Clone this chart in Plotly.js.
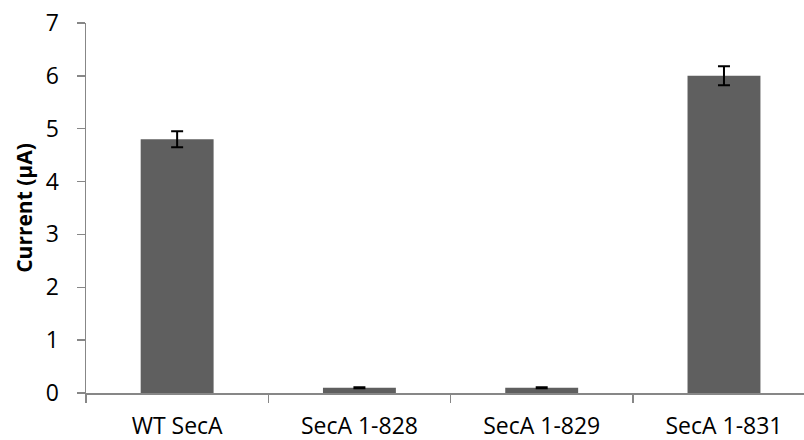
<!DOCTYPE html>
<html>
<head>
<meta charset="utf-8">
<script src="https://cdn.plot.ly/plotly-3.0.1.min.js"></script>
<style>html,body{margin:0;padding:0;background:#fff;}#chart{width:804px;height:440px;}</style>
</head>
<body>
<div id="chart"></div>
<script>
const categories = ["WT SecA", "SecA 1-828", "SecA 1-829", "SecA 1-831"];
const currentValues = [4.8, 0.1, 0.1, 6.0];
const errorValues = [0.15, 0.01, 0.01, 0.18];
const yTickValues = [0, 1, 2, 3, 4, 5, 6, 7];

const font = "Open Sans, Lato, sans-serif";

const trace = {
  type: "bar",
  x: categories,
  y: currentValues,
  marker: {color: "#5f5f5f"},
  width: 0.4,
  error_y: {type: "data", array: errorValues, visible: true, color: "#000", thickness: 2, width: 6},
  hoverinfo: "none"
};

const layout = {
  width: 804, height: 440,
  margin: {l: 86, r: 0, t: 23, b: 47},
  paper_bgcolor: "#fff", plot_bgcolor: "#fff",
  showlegend: false,
  font: {family: font, color: "#000", size: 18},
  xaxis: {
    type: "category",
    range: [-0.5, 3.439],
    showgrid: false,
    showline: true, linecolor: "#878787", linewidth: 1.5,
    ticks: "outside", tickson: "boundaries", ticklen: 8, tickwidth: 1.5, tickcolor: "#878787",
    tickfont: {family: font, size: 23, color: "#000"},
    ticklabelstandoff: 12,
    zeroline: false, fixedrange: true
  },
  yaxis: {
    range: [0, 7],
    tickvals: yTickValues,
    ticktext: yTickValues.map(String),
    showgrid: false,
    showline: true, linecolor: "#878787", linewidth: 1.5,
    ticks: "outside", ticklen: 8, tickwidth: 1.5, tickcolor: "#878787",
    tickfont: {family: font, size: 23, color: "#000"},
    ticklabelstandoff: 13,
    zeroline: false,
    title: {text: "<b>Current (μA)</b>", font: {family: font, size: 21, color: "#000"}, standoff: 7},
    fixedrange: true
  }
};

Plotly.newPlot("chart", [trace], layout, {displayModeBar: false, staticPlot: true});
</script>
</body>
</html>
